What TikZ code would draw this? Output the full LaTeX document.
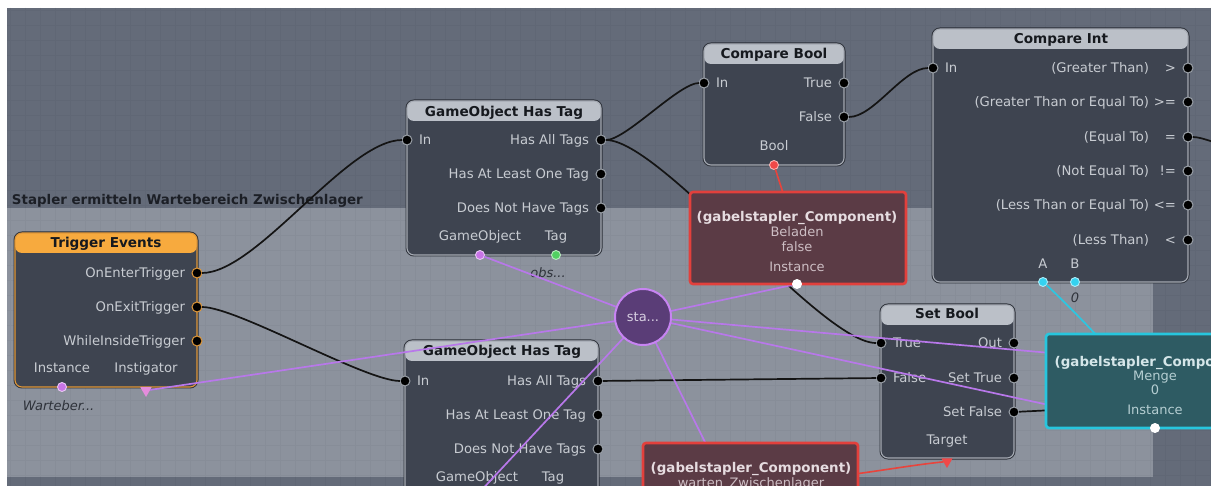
\documentclass[tikz,border=0pt]{standalone}
\usepackage{fontspec}
\setmainfont{DejaVu Sans}
\usetikzlibrary{shapes.geometric}
\pgfdeclarelayer{canvas}
\pgfdeclarelayer{logic}
\pgfdeclarelayer{wires}
\pgfsetlayers{canvas,logic,wires,main}

\definecolor{outerbg}{HTML}{646B79}
\definecolor{panelbg}{HTML}{8C929D}
\definecolor{gridA}{HTML}{606775}
\definecolor{gridB}{HTML}{878D98}
\definecolor{nodebody}{HTML}{3E4450}
\definecolor{nodehead}{HTML}{BBC0C8}
\definecolor{nodeedge}{HTML}{A5AAB3}
\definecolor{shadowcol}{HTML}{2B2F37}
\definecolor{trighead}{HTML}{F7AA3E}
\definecolor{trigedge}{HTML}{E0983A}
\definecolor{labelcol}{HTML}{C8CCD2}
\definecolor{titlecol}{HTML}{16191E}
\definecolor{grouptext}{HTML}{1C1F26}
\definecolor{portring}{HTML}{9AA0A8}
\definecolor{belfill}{HTML}{5B3B45}
\definecolor{beledge}{HTML}{E2403C}
\definecolor{beltitle}{HTML}{E6DCE0}
\definecolor{beltext}{HTML}{CDBEC4}
\definecolor{mengefill}{HTML}{2E5B63}
\definecolor{mengeedge}{HTML}{27C6DE}
\definecolor{mengetitle}{HTML}{D5E6E9}
\definecolor{mengetext}{HTML}{B5CED2}
\definecolor{varfill}{HTML}{5A3D77}
\definecolor{varedge}{HTML}{C784F2}
\definecolor{vartext}{HTML}{D8D0E2}
\definecolor{wirepurple}{HTML}{B878EA}
\definecolor{wirecyan}{HTML}{2EC6E0}
\definecolor{wirered}{HTML}{E8443C}
\definecolor{italcol}{HTML}{2E323A}
\definecolor{goport}{HTML}{C874E6}
\definecolor{tagport}{HTML}{52D062}
\definecolor{boolport}{HTML}{F04848}
\definecolor{intport}{HTML}{34D2F0}
\definecolor{pinktri}{HTML}{E48CDC}

\tikzset{
  every node/.style={inner sep=0pt, outer sep=0pt},
  gridline/.style={draw=#1, line width=0.5pt},
  lbl/.style={text=labelcol, font=\fontsize{13.2}{15}\selectfont, text height=9.6pt, text depth=0pt},
  ttl/.style={text=titlecol, font=\bfseries\fontsize{13.6}{16}\selectfont, text height=9.9pt, text depth=0pt},
  grouplbl/.style={text=grouptext, font=\bfseries\fontsize{13.4}{16}\selectfont, text height=9.8pt, text depth=0pt},
  ital/.style={text=italcol, font=\itshape\fontsize{13}{15}\selectfont, text height=9.5pt, text depth=0pt},
  vttl/.style={font=\bfseries\fontsize{13.4}{16}\selectfont, text height=9.8pt, text depth=0pt},
  vlbl/.style={font=\fontsize{13}{15}\selectfont, text height=9.5pt, text depth=0pt},
  lnode/.style={draw=nodeedge, line width=1.1pt, fill=nodebody, rounded corners=7pt,
    preaction={draw=shadowcol, line width=3pt},
    path picture={\fill[#1] (path picture bounding box.north west) rectangle ([yshift=-20pt]path picture bounding box.north east);}},
  lnode/.default=nodehead,
  port/.style={circle, minimum size=10pt, fill=black, draw=#1, line width=1pt},
  port/.default=portring,
  vport/.style={circle, minimum size=9pt, fill=#1, draw=white!60!#1, line width=0.9pt},
  tri/.style={regular polygon, regular polygon sides=3, shape border rotate=180, minimum size=13pt, fill=#1},
  vbox/.style={rounded corners=3pt, line width=2.6pt},
  varcirc/.style={circle, minimum size=56pt, fill=varfill, draw=varedge, line width=2pt, text=vartext, font=\fontsize{13}{15}\selectfont},
  wire/.style={draw=black!92, line width=1.7pt},
  pwire/.style={draw=wirepurple, line width=1.7pt},
  cwire/.style={draw=wirecyan, line width=1.7pt},
  rwire/.style={draw=wirered, line width=1.6pt},
}

\begin{document}
\begin{tikzpicture}[x=1pt,y=-1pt]
\useasboundingbox (0,0) rectangle (1211,486);

% editor canvas, grid and the comment group
\begin{pgfonlayer}{canvas}
  \fill[white] (0,0) rectangle (1211,486);
  \fill[outerbg] (7,8) rectangle (1211,486);
  \begin{scope}
    \clip (7,8) rectangle (1211,486);
    \foreach \g in {10,25,...,1210} \draw[gridline=gridA] (\g,8) -- (\g,486);
    \foreach \g in {10,25,...,485} \draw[gridline=gridA] (7,\g) -- (1211,\g);
  \end{scope}
  \fill[panelbg] (7,208) rectangle (1153,477);
  \begin{scope}
    \clip (7,208) rectangle (1153,477);
    \foreach \g in {10,25,...,1160} \draw[gridline=gridB] (\g,208) -- (\g,477);
    \foreach \g in {220,235,...,475} \draw[gridline=gridB] (7,\g) -- (1153,\g);
  \end{scope}
  \node[grouplbl, anchor=west] (group) at (12,200) {Stapler ermitteln Wartebereich Zwischenlager};
\end{pgfonlayer}

% logic nodes
\begin{pgfonlayer}{logic}
  % Trigger Events
  \node[lnode=trighead, draw=trigedge, minimum width=182pt, minimum height=154pt] (trig) at (106,310) {};
  \node[ttl] (trig-t) at (106,243) {Trigger Events};
  \node[lbl, anchor=east] (trig-enter-l) at (185,273) {OnEnterTrigger};
  \node[lbl, anchor=east] (trig-exit-l) at (185,307) {OnExitTrigger};
  \node[lbl, anchor=east] (trig-inside-l) at (185,341) {WhileInsideTrigger};
  \node[lbl] (trig-inst-l) at (62,368) {Instance};
  \node[lbl] (trig-instig-l) at (146,368) {Instigator};
  \node[port=trigedge] (trig-enter) at (197,273) {};
  \node[port=trigedge] (trig-exit) at (197,307) {};
  \node[port=trigedge] (trig-inside) at (197,341) {};
  \node[vport=goport] (trig-inst) at (62,387) {};
  \node[tri=pinktri] (trig-instig) at (146,390.5) {};
  \node[ital, anchor=west] (trig-inst-v) at (23,406) {Warteber...};

  % GameObject Has Tag (upper)
  \node[lnode, minimum width=194pt, minimum height=154pt] (goht1) at (504,178) {};
  \node[ttl] (goht1-t) at (504,111.5) {GameObject Has Tag};
  \node[lbl, anchor=west] (goht1-in-l) at (419,140) {In};
  \node[lbl, anchor=east] (goht1-all-l) at (589,140) {Has All Tags};
  \node[lbl, anchor=east] (goht1-one-l) at (589,174) {Has At Least One Tag};
  \node[lbl, anchor=east] (goht1-none-l) at (589,208) {Does Not Have Tags};
  \node[lbl] (goht1-go-l) at (480,236) {GameObject};
  \node[lbl] (goht1-tag-l) at (556,236) {Tag};
  \node[port] (goht1-in) at (407,140) {};
  \node[port] (goht1-all) at (601,140) {};
  \node[port] (goht1-one) at (601,174) {};
  \node[port] (goht1-none) at (601,208) {};
  \node[vport=goport] (goht1-go) at (480,255) {};
  \node[vport=tagport] (goht1-tag) at (556,255) {};
  \node[ital] (goht1-tag-v) at (548,273) {obs...};

  % GameObject Has Tag (lower)
  \node[lnode, minimum width=193pt, minimum height=154pt] (goht2) at (501.5,418) {};
  \node[ttl] (goht2-t) at (502,351) {GameObject Has Tag};
  \node[lbl, anchor=west] (goht2-in-l) at (417,381) {In};
  \node[lbl, anchor=east] (goht2-all-l) at (586,381) {Has All Tags};
  \node[lbl, anchor=east] (goht2-one-l) at (586,415) {Has At Least One Tag};
  \node[lbl, anchor=east] (goht2-none-l) at (586,449) {Does Not Have Tags};
  \node[lbl] (goht2-go-l) at (477,477) {GameObject};
  \node[lbl] (goht2-tag-l) at (553,477) {Tag};
  \node[port] (goht2-in) at (405,381) {};
  \node[port] (goht2-all) at (598,381) {};
  \node[port] (goht2-one) at (598,415) {};
  \node[port] (goht2-none) at (598,449) {};
  \node[vport=goport] (goht2-go) at (477,495) {};

  % Compare Bool
  \node[lnode, minimum width=140pt, minimum height=121pt] (cb) at (774,104.5) {};
  \node[ttl] (cb-t) at (774,53.5) {Compare Bool};
  \node[lbl, anchor=west] (cb-in-l) at (716,83) {In};
  \node[lbl, anchor=east] (cb-true-l) at (832,83) {True};
  \node[lbl, anchor=east] (cb-false-l) at (832,117) {False};
  \node[lbl] (cb-bool-l) at (774,146) {Bool};
  \node[port] (cb-in) at (704,83) {};
  \node[port] (cb-true) at (844,83) {};
  \node[port] (cb-false) at (844,117) {};
  \node[vport=boolport] (cb-bool) at (774,165) {};

  % Compare Int
  \node[lnode, minimum width=255pt, minimum height=253pt] (ci) at (1060.5,155.5) {};
  \node[ttl] (ci-t) at (1061,39) {Compare Int};
  \node[lbl, anchor=west] (ci-in-l) at (945,68) {In};
  \node[port] (ci-in) at (933,68) {};
  \foreach \nm/\yy/\desc/\sym in {gt/68/(Greater Than)/>, ge/102/(Greater Than or Equal To)/>=,
      eq/137/(Equal To)/=, ne/171/(Not Equal To)/!=, le/205/(Less Than or Equal To)/<=, lt/240/(Less Than)/<} {
    \node[lbl, anchor=east] (ci-\nm-l) at (1149,\yy) {\desc};
    \node[lbl, anchor=east] (ci-\nm-s) at (1176,\yy) {\sym};
    \node[port] (ci-\nm) at (1188,\yy) {};
  }
  \node[lbl] (ci-a-l) at (1043,264) {A};
  \node[lbl] (ci-b-l) at (1075,264) {B};
  \node[vport=intport] (ci-a) at (1043,282) {};
  \node[vport=intport] (ci-b) at (1075,282) {};
  \node[ital] (ci-b-v) at (1075,298) {0};

  % Set Bool
  \node[lnode, minimum width=133pt, minimum height=153pt] (sb) at (947.5,381.5) {};
  \node[ttl] (sb-t) at (947,314) {Set Bool};
  \node[lbl, anchor=west] (sb-true-l) at (893,343) {True};
  \node[lbl, anchor=west] (sb-false-l) at (893,378) {False};
  \node[lbl, anchor=east] (sb-out-l) at (1002,343) {Out};
  \node[lbl, anchor=east] (sb-settrue-l) at (1002,378) {Set True};
  \node[lbl, anchor=east] (sb-setfalse-l) at (1002,412) {Set False};
  \node[lbl] (sb-target-l) at (947,440) {Target};
  \node[port] (sb-true) at (881,343) {};
  \node[port] (sb-false) at (881,378) {};
  \node[port] (sb-out) at (1014,343) {};
  \node[port] (sb-settrue) at (1014,378) {};
  \node[port] (sb-setfalse) at (1014,412) {};
  \node[tri=boolport] (sb-target) at (947,461.5) {};
\end{pgfonlayer}

% variable and property nodes
\node[vbox, fill=belfill, draw=beledge, minimum width=216pt, minimum height=92pt] (bel) at (798,238) {};
\node[vttl, text=beltitle] (bel-t) at (797,217) {(gabelstapler\_Component)};
\node[vlbl, text=beltext] (bel-p) at (797,232) {Beladen};
\node[vlbl, text=beltext] (bel-v) at (797,247) {false};
\node[vlbl, text=beltext] (bel-i) at (797,267) {Instance};
\node[vport=white] (bel-inst) at (797,284) {};

\node[vbox, fill=belfill, draw=beledge, minimum width=215pt, minimum height=92pt] (low) at (750.5,489) {};
\node[vttl, text=beltitle] (low-t) at (751,468) {(gabelstapler\_Component)};
\node[vlbl, text=beltext] (low-p) at (751,483) {warten\_Zwischenlager};
\node[vport=white] (low-inst) at (751,535) {};

\node[vbox, fill=mengefill, draw=mengeedge, minimum width=218pt, minimum height=94pt] (menge) at (1155,381) {};
\node[vttl, text=mengetitle] (menge-t) at (1155,362) {(gabelstapler\_Component)};
\node[vlbl, text=mengetext] (menge-p) at (1155,376) {Menge};
\node[vlbl, text=mengetext] (menge-v) at (1155,390) {0};
\node[vlbl, text=mengetext] (menge-i) at (1155,410) {Instance};
\node[vport=white] (menge-inst) at (1155,428) {};

\node[varcirc] (stap) at (643,317) {sta...};

% loose wire ends
\coordinate (eq-end) at (1240,150);
\coordinate (setfalse-end) at (1075,409);
\coordinate (stap-far) at (1300,375);
\coordinate (menge-a) at (1112,352);
\coordinate (bel-top) at (784,196);
\coordinate (low-out) at (855,474);

% connections
\begin{pgfonlayer}{wires}
  \draw[wire] (trig-enter) .. controls +(60,0) and +(-60,0) .. (goht1-in);
  \draw[wire] (trig-exit) .. controls +(40,0) and +(-40,0) .. (goht2-in);
  \draw[wire] (goht1-all) .. controls +(25,0) and +(-25,0) .. (cb-in);
  \draw[wire] (goht1-all) .. controls +(60,0) and +(-60,0) .. (sb-true);
  \draw[wire] (cb-false) .. controls +(30,0) and +(-30,0) .. (ci-in);
  \draw[wire] (ci-eq) .. controls +(15,0) and +(-15,-3) .. (eq-end);
  \draw[wire] (goht2-all) -- (sb-false);
  \draw[wire] (sb-setfalse) -- (setfalse-end);

  \draw[pwire] (stap) -- (goht1-go);
  \draw[pwire] (stap) -- (trig-instig);
  \draw[pwire] (stap) -- (goht2-go);
  \draw[pwire] (stap) -- (bel-inst);
  \draw[pwire] (stap) -- (menge-inst);
  \draw[pwire] (stap) -- (stap-far);
  \draw[pwire] (stap) -- (low-inst);

  \draw[cwire] (ci-a) .. controls +(20,18) and +(-20,-22) .. (menge-a);
  \draw[rwire] (cb-bool) -- (bel-top);
  \draw[rwire] (low-out) .. controls +(30,-4) and +(-30,3) .. (sb-target);
\end{pgfonlayer}
\end{tikzpicture}
\end{document}
